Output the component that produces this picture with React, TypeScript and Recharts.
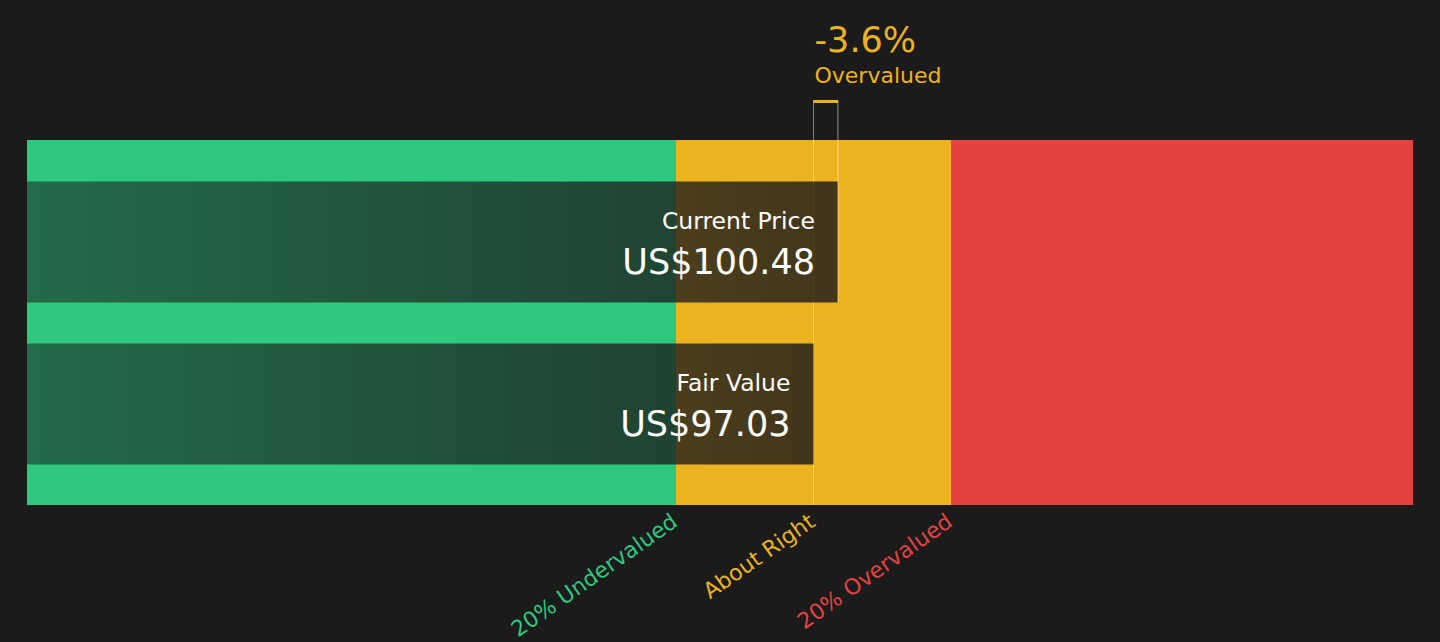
import { BarChart, Bar, XAxis, YAxis, ReferenceArea, LabelList } from 'recharts';

const FAIR_VALUE = 97.03;
const CURRENT_PRICE = 100.48;
const CURRENCY = 'US$';

const BAR_NAMES = ['Current Price', 'Fair Value'];
const BAR_VALUES = [CURRENT_PRICE, FAIR_VALUE];

const ZONE_LABELS = ['20% Undervalued', 'About Right', '20% Overvalued'];
const ZONE_COLORS = ['#2ec97f', '#edb220', '#e54242'];
const TICK_VALUES = [0.8 * FAIR_VALUE, FAIR_VALUE, 1.2 * FAIR_VALUE];

const AXIS_MIN = -13.97;
const AXIS_MAX = 181.64;

const ZONES = [
  [AXIS_MIN, TICK_VALUES[0]],
  [TICK_VALUES[0], TICK_VALUES[2]],
  [TICK_VALUES[2], AXIS_MAX],
];

const FONT = '"DejaVu Sans", sans-serif';
const BG = '#1b1b1b';
const ANNOT = '#edb220';
const Y_PAD = 20.5; // band padding, zones still fill it

const diffPct = ((FAIR_VALUE - CURRENT_PRICE) / FAIR_VALUE) * 100;
const status = CURRENT_PRICE > FAIR_VALUE ? 'Overvalued' : 'Undervalued';

const data = BAR_NAMES.map((name, i) => ({
  name,
  range: [AXIS_MIN, BAR_VALUES[i]],
  value: BAR_VALUES[i],
}));

function ZoneTick(props: any) {
  const { x, y, index } = props;
  return (
    <g transform={`translate(${x + 3},${y + 20}) rotate(-35)`}>
      <text textAnchor="end" fill={ZONE_COLORS[index]} fontSize={22} fontFamily={FONT}>
        {ZONE_LABELS[index]}
      </text>
    </g>
  );
}

function ZoneRect(props: any) {
  const { x, y, width, height, fill } = props;
  return <rect x={x} y={y - Y_PAD} width={width} height={height + 2 * Y_PAD} fill={fill} />;
}

function ShadedBar(props: any) {
  const { x, y, width, height, index } = props;
  const edge = x + width;
  return (
    <g>
      <rect x={x} y={y} width={width} height={height} fill="url(#barShade)" />
      {index === 0 && (
        <line x1={edge} x2={edge} y1={y - 81} y2={y + height} stroke="#ffffff" strokeOpacity={0.5} />
      )}
    </g>
  );
}

function BarText(props: any) {
  const { x, y, width, height, index, value } = props;
  const right = x + width - 23;
  const mid = y + height / 2;
  return (
    <g fontFamily={FONT} fill="#ffffff">
      <text x={right} y={mid - 13.5} textAnchor="end" fontSize={23.5}>
        {BAR_NAMES[index]}
      </text>
      <text x={right} y={mid + 31.5} textAnchor="end" fontSize={35}>
        {CURRENCY}
        {Number(value).toFixed(2)}
      </text>
    </g>
  );
}

function Bracket(props: any) {
  const { x, y, width, height } = props;
  const top = y - Y_PAD;
  return (
    <g fontFamily={FONT}>
      <line x1={x} x2={x} y1={top - 40} y2={y + height + Y_PAD} stroke="#ffffff" strokeOpacity={0.45} />
      <rect x={x} y={top - 40} width={width} height={3} fill={ANNOT} />
      <text x={x + 1} y={top - 88} fontSize={35} fill={ANNOT}>
        {diffPct.toFixed(1)}%
      </text>
      <text x={x + 1} y={top - 57} fontSize={22} fill={ANNOT}>
        {status}
      </text>
    </g>
  );
}

export default function App() {
  return (
    <div style={{ position: 'absolute', left: 0, top: 0, width: 1440, height: 642, background: BG }}>
      <BarChart
        width={1440}
        height={642}
        data={data}
        layout="vertical"
        margin={{ top: 140, right: 27, bottom: 97, left: 27 }}
      >
        <defs>
          <linearGradient id="barShade" x1="0" y1="0" x2="1" y2="0">
            <stop offset="0%" stopColor={BG} stopOpacity={0.54} />
            <stop offset="100%" stopColor={BG} stopOpacity={0.82} />
          </linearGradient>
        </defs>
        <XAxis
          type="number"
          domain={[AXIS_MIN, AXIS_MAX]}
          ticks={TICK_VALUES}
          interval={0}
          tick={<ZoneTick />}
          axisLine={false}
          tickLine={false}
          tickSize={0}
          tickMargin={0}
          height={40}
          allowDataOverflow
        />
        <YAxis type="category" dataKey="name" hide padding={{ top: Y_PAD, bottom: Y_PAD }} />
        {ZONES.map(([x1, x2], i) => (
          <ReferenceArea
            key={i}
            x1={x1}
            x2={x2}
            fill={ZONE_COLORS[i]}
            fillOpacity={1}
            stroke="none"
            shape={<ZoneRect />}
          />
        ))}
        <Bar dataKey="range" barSize={121} shape={<ShadedBar />} isAnimationActive={false}>
          <LabelList dataKey="value" content={<BarText />} />
        </Bar>
        <ReferenceArea x1={FAIR_VALUE} x2={CURRENT_PRICE} shape={<Bracket />} />
      </BarChart>
    </div>
  );
}
